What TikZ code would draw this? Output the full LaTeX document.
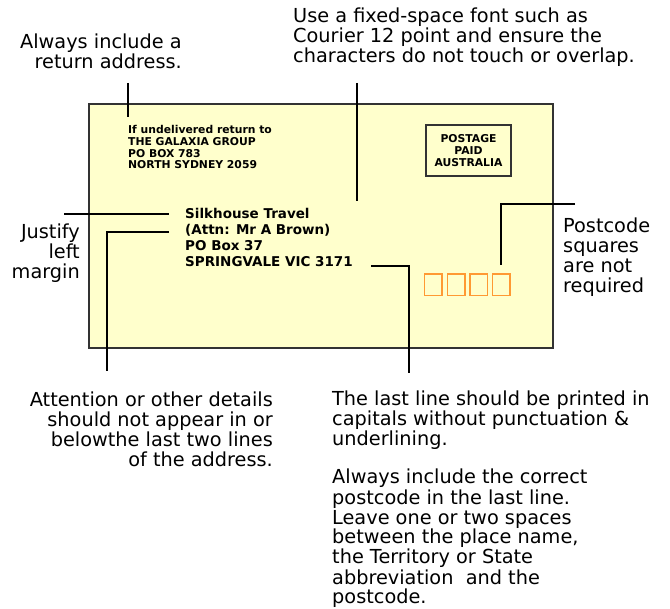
\documentclass[tikz,border=0pt]{standalone}
\usepackage{fontspec}
\setmainfont{DejaVu Sans}
\usetikzlibrary{positioning}

\definecolor{envyellow}{HTML}{FFFFCC}
\definecolor{envedge}{HTML}{333333}
\definecolor{pcorange}{HTML}{FF9933}

\begin{document}
\begin{tikzpicture}[x=1pt,y=-1pt,
  note/.style={inner sep=0pt,font=\fontsize{19.3}{20}\selectfont},
  lead/.style={line width=1.5pt,black},
  smalladdr/.style={inner sep=0pt,align=left,font=\fontsize{10.8}{11.7}\selectfont\bfseries},
  mainaddr/.style={inner sep=0pt,align=left,font=\fontsize{13.5}{16}\selectfont\bfseries},
  pcsquare/.style={draw=pcorange,line width=1.5pt,minimum width=17.5pt,minimum height=21.5pt,inner sep=0pt}]

\useasboundingbox (0,0) rectangle (670,609);

% envelope
\coordinate (env-nw) at (89,104);
\coordinate (env-se) at (553,348);
\draw [fill=envyellow,draw=envedge,line width=2pt] (env-nw) rectangle (env-se);

\node [draw=envedge,line width=1.5pt,minimum width=85pt,minimum height=51pt,inner sep=0pt,
       align=center,font=\fontsize{10.8}{12}\selectfont\bfseries] (env-stamp) at (468.5,150.5)
      {POSTAGE\\PAID\\AUSTRALIA};

% base anchor = last line
\node [smalladdr,anchor=base west] (env-return) at (128,169)
      {If undelivered return to\\THE GALAXIA GROUP\\PO BOX 783\\NORTH SYDNEY 2059};

\node [mainaddr,anchor=base west] (env-address) at (185,267)
      {Silkhouse Travel\\(Attn: Mr A Brown)\\PO Box 37\\SPRINGVALE VIC 3171};

\foreach \i in {1,...,4}
  \node [pcsquare] (env-pc-\i) at ({433.4+22.6*(\i-1)},284.7) {};

%%%%%%%%%%%%%%%%%%%%%%%%%%%%%%%%%%%%%%%%%%%%%%%%%%%%%%%%%%%%%%%%%

\node [note,anchor=base east,align=right] (note-return) at (182,69)
      {Always include a\\return address.};
\node [note,anchor=base west,align=left] (note-font) at (293,63)
      {Use a fixed-space font such as\\Courier 12 point and ensure the\\characters do not touch or overlap.};
\node [note,anchor=base east,align=right] (note-justify) at (80,279)
      {Justify\\left\\margin};
\node [note,anchor=base west,align=left] (note-postcode) at (563,293)
      {Postcode\\squares\\are not\\required};
\node [note,anchor=base east,align=right] (note-attn) at (273,467)
      {Attention or other details\\should not appear in or\\belowthe last two lines\\of the address.};
\node [note,anchor=base west,align=left] (note-last) at (332,604)
      {The last line should be printed in\\capitals without punctuation \&\\underlining.\\[19pt]Always include the correct\\postcode in the last line.\\Leave one or two spaces\\between the place name,\\the Territory or State\\abbreviation\ \ and the\\postcode.};

% leaders
\coordinate (ret-lead-a) at (128,83);
\coordinate (ret-lead-b) at (128,117);
\draw [lead] (ret-lead-a) -- (ret-lead-b);

\coordinate (font-lead-a) at (357,83);
\coordinate (font-lead-b) at (357,201);
\draw [lead] (font-lead-a) -- (font-lead-b);

\coordinate (just-lead-a) at (64,214);
\coordinate (just-lead-b) at (169,214);
\draw [lead] (just-lead-a) -- (just-lead-b);

\coordinate (attn-lead-a) at (169,232);
\coordinate (attn-lead-b) at (107,371);
\draw [lead] (attn-lead-a) -| (attn-lead-b);

\coordinate (last-lead-a) at (371,266);
\coordinate (last-lead-b) at (409,373);
\draw [lead] (last-lead-a) -| (last-lead-b);

\coordinate (pc-lead-a) at (575,204);
\coordinate (pc-lead-b) at (501,265);
\draw [lead] (pc-lead-a) -| (pc-lead-b);

\end{tikzpicture}
\end{document}
